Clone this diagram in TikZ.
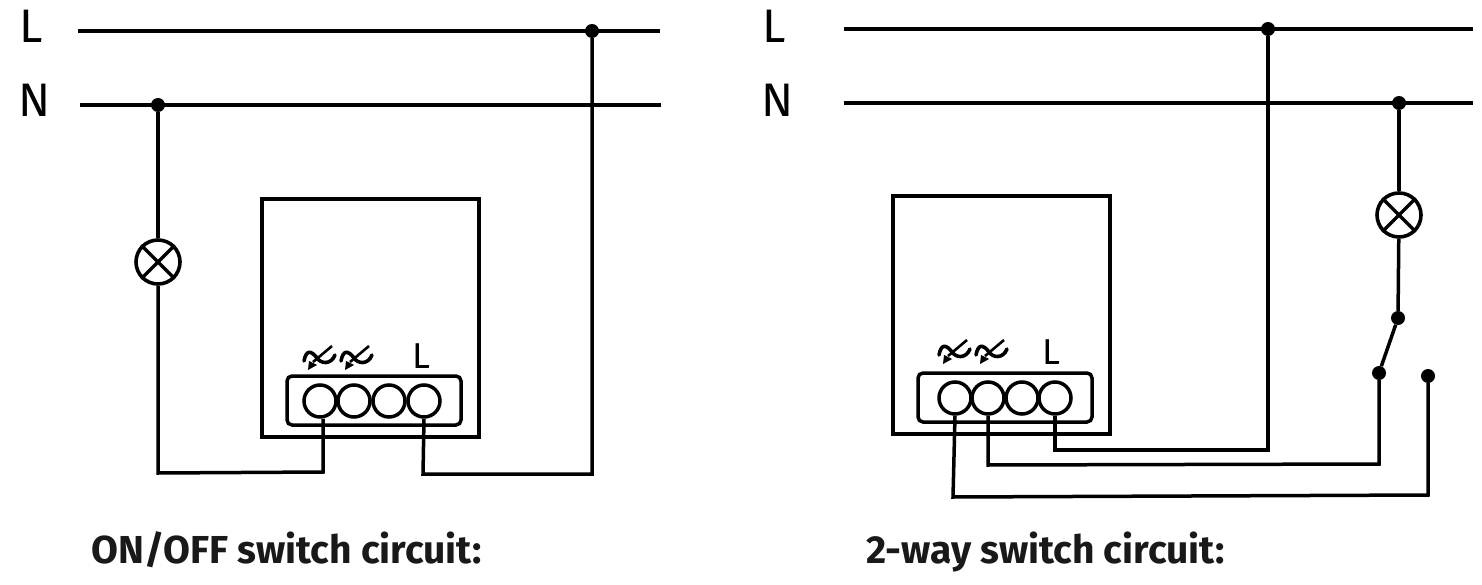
\documentclass[tikz,border=0pt]{standalone}
\usepackage{fontspec}
\setmainfont{Fira Sans}
\usetikzlibrary{arrows.meta}
\tikzset{
  wire/.style={line width=3.5pt,line join=miter},
  dot/.style={circle,fill=black,draw=none,inner sep=0pt,minimum size=14pt},
  lamp/.style={circle,draw,line width=3.6pt,inner sep=0pt,minimum size=44pt},
  terminal/.style={circle,draw,line width=3.5pt,inner sep=0pt,minimum size=32pt},
  housing/.style={draw,line width=3.5pt},
  block/.style={draw,line width=3.5pt,rounded corners=5pt},
  biglabel/.style={inner sep=0pt,anchor=base west,font=\fontsize{47}{47}\selectfont},
  smalllabel/.style={inner sep=0pt,anchor=base west,font=\fontsize{36}{36}\selectfont},
  title/.style={inner sep=0pt,anchor=base west,font=\fontsize{39}{39}\selectfont\bfseries,text=black!90},
  acsym/.pic={
    \draw[line width=3.6pt,line cap=round] (-15,3) .. controls (-13,-8) and (-8,-8) .. (-2,0) .. controls (2,6) and (12,7) .. (16,-3);
    \draw[line width=2.6pt] (13,-12) -- (-6,4);
    \fill (-11,12) -- (-10,3) -- (-2,7) -- cycle;
  }
}
\begin{document}
\begin{tikzpicture}[x=1pt,y=-1pt]
\useasboundingbox (0,0) rectangle (1482,585);
% ---------- left circuit ----------
\node[biglabel] (lL) at (19,43) {L};
\node[biglabel] (lN) at (18,117) {N};
\coordinate (l1) at (78,31); \coordinate (l2) at (660,31);
\coordinate (n1) at (80,105); \coordinate (n2) at (661,105);
\draw[wire] (l1) -- (l2);
\draw[wire] (n1) -- (n2);
\node[dot] (ld) at (592,31) {};
\node[dot] (nd) at (158,105) {};
\node[lamp] (lampA) at (158,262) {};
\draw[line width=3.4pt] (lampA.45) -- (lampA.225) (lampA.135) -- (lampA.315);
\draw[housing] (262,199) rectangle (479,437);
\draw[block] (287,376) rectangle (461,425);
\node[terminal] (a1) at (320,401) {};
\node[terminal] (a2) at (354,401) {};
\node[terminal] (a3) at (389,401) {};
\node[terminal] (a4) at (424,401) {};
\pic at (319,358) {acsym};
\pic at (356,358) {acsym};
\node[smalllabel] (aL) at (412,368) {L};
\coordinate (a1c) at (323,472); \coordinate (a1d) at (158,473);
\coordinate (a4c) at (423,474); \coordinate (a4d) at (592,474);
\draw[wire] (nd) -- (lampA);
\draw[wire] (lampA) -- (a1d) -- (a1c) -- (a1c |- a1.south);
\draw[wire] (a4.south) -- (a4c) -- (a4d) -- (ld);
\node[title] (tA) at (91,563) {ON/OFF switch circuit:};
% ---------- right circuit ----------
\node[biglabel] (rL) at (762,43) {L};
\node[biglabel] (rN) at (761,117) {N};
\coordinate (r1) at (844,29); \coordinate (r2) at (1473,29);
\coordinate (m1) at (844,103); \coordinate (m2) at (1473,103);
\draw[wire] (r1) -- (r2);
\draw[wire] (m1) -- (m2);
\node[dot] (rd) at (1268,29) {};
\node[dot] (md) at (1399,103) {};
\node[lamp] (lampB) at (1399,215) {};
\draw[line width=3.4pt] (lampB.45) -- (lampB.225) (lampB.135) -- (lampB.315);
\node[dot] (s0) at (1398,318) {};
\node[dot] (s1) at (1379,373) {};
\node[dot] (s2) at (1428,376) {};
\draw[housing] (893,196) rectangle (1110,434);
\draw[block] (918,373) rectangle (1092,422);
\node[terminal] (b1) at (955,398) {};
\node[terminal] (b2) at (988,398) {};
\node[terminal] (b3) at (1022,398) {};
\node[terminal] (b4) at (1055,398) {};
\pic at (954,352) {acsym};
\pic at (991,352) {acsym};
\node[smalllabel] (bL) at (1042,364) {L};
\draw[wire] (md) -- (lampB);
\draw[wire] (lampB) -- (s0);
\draw[wire] (s0) -- (s1);
\coordinate (b4c) at (1055,450); \coordinate (b4d) at (1268,450);
\coordinate (b2c) at (988,465); \coordinate (b2d) at (1379,464);
\coordinate (b1c) at (953,497); \coordinate (b1d) at (1428,495);
\draw[wire] (b4.south) -- (b4c) -- (b4d) -- (rd);
\draw[wire] (b2.south) -- (b2c) -- (b2d) -- (s1);
\draw[wire] (b1.south) -- (b1c) -- (b1d) -- (s2);
\node[title] (tB) at (866,563) {2-way switch circuit:};
\end{tikzpicture}
\end{document}
